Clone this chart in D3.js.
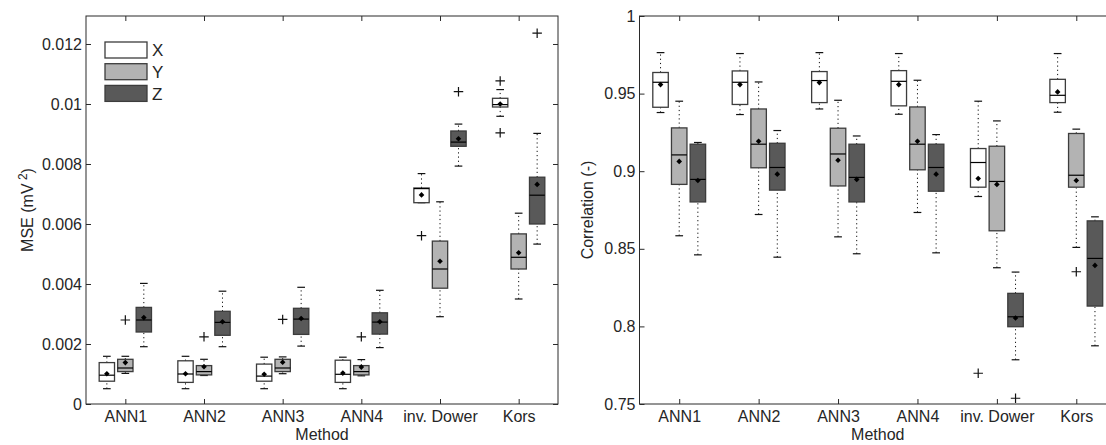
<!DOCTYPE html>
<html>
<head>
<meta charset="utf-8">
<script src="https://cdn.jsdelivr.net/npm/d3@7"></script>
<style>
  body { margin: 0; background: #fff; }
  svg text { font-family: Arial, "Liberation Sans", sans-serif; fill: #262626; }
</style>
</head>
<body>
<svg id="chart" width="1106" height="445"></svg>
<script>
const methods = ['ANN1', 'ANN2', 'ANN3', 'ANN4', 'inv. Dower', 'Kors'];
const seriesNames = ['X', 'Y', 'Z'];

// each row: [lower whisker, q1, median, q3, upper whisker, mean]
const mseX = [
  [0.00051, 0.00076, 0.00096, 0.00138, 0.00159, 0.00101],
  [0.00051, 0.00072, 0.00100, 0.00144, 0.00159, 0.00101],
  [0.00051, 0.00076, 0.00093, 0.00133, 0.00156, 0.00099],
  [0.00051, 0.00072, 0.00099, 0.00146, 0.00156, 0.00103],
  [0.00671, 0.00671, 0.00718, 0.00720, 0.00768, 0.00697],
  [0.00959, 0.00990, 0.00998, 0.01019, 0.01048, 0.01000]
];
const mseY = [
  [0.00102, 0.00108, 0.00120, 0.00149, 0.00159, 0.00138],
  [0.00095, 0.00097, 0.00108, 0.00128, 0.00149, 0.00124],
  [0.00101, 0.00108, 0.00120, 0.00149, 0.00157, 0.00139],
  [0.00094, 0.00097, 0.00108, 0.00128, 0.00148, 0.00123],
  [0.00291, 0.00386, 0.00450, 0.00543, 0.00674, 0.00476],
  [0.00350, 0.00450, 0.00489, 0.00567, 0.00636, 0.00504]
];
const mseZ = [
  [0.00191, 0.00240, 0.00280, 0.00322, 0.00402, 0.00288],
  [0.00191, 0.00229, 0.00272, 0.00309, 0.00376, 0.00274],
  [0.00193, 0.00232, 0.00283, 0.00319, 0.00389, 0.00285],
  [0.00188, 0.00233, 0.00273, 0.00304, 0.00379, 0.00274],
  [0.00793, 0.00859, 0.00873, 0.00910, 0.00933, 0.00884],
  [0.00533, 0.00600, 0.00696, 0.00756, 0.00902, 0.00732]
];
// [method index, series index, value]
const mseOutliers = [
  [0, 1, 0.00280], [1, 1, 0.00224], [2, 1, 0.00282], [3, 1, 0.00224],
  [4, 0, 0.00561], [4, 2, 0.01041],
  [5, 0, 0.01077], [5, 0, 0.00904], [5, 2, 0.01236]
];
const mseTicks = [0, 0.002, 0.004, 0.006, 0.008, 0.01, 0.012];

const corrX = [
  [0.9378, 0.9412, 0.9573, 0.9636, 0.9764, 0.9558],
  [0.9365, 0.9430, 0.9573, 0.9646, 0.9758, 0.9558],
  [0.9401, 0.9442, 0.9584, 0.9642, 0.9764, 0.9571],
  [0.9367, 0.9421, 0.9579, 0.9648, 0.9758, 0.9558],
  [0.8837, 0.8897, 0.9056, 0.9146, 0.9451, 0.8953],
  [0.9380, 0.9442, 0.9489, 0.9592, 0.9758, 0.9511]
];
const corrY = [
  [0.8584, 0.8915, 0.9105, 0.9279, 0.9451, 0.9063],
  [0.8721, 0.9022, 0.9174, 0.9401, 0.9575, 0.9193],
  [0.8577, 0.8905, 0.9111, 0.9277, 0.9457, 0.9071],
  [0.8734, 0.9009, 0.9174, 0.9414, 0.9586, 0.9193],
  [0.8378, 0.8616, 0.8934, 0.9161, 0.9324, 0.8915],
  [0.8509, 0.8897, 0.8974, 0.9243, 0.9271, 0.8940]
];
const corrZ = [
  [0.8461, 0.8802, 0.8947, 0.9174, 0.9185, 0.8940],
  [0.8446, 0.8878, 0.9024, 0.9180, 0.9262, 0.8981],
  [0.8468, 0.8802, 0.8960, 0.9174, 0.9227, 0.8947],
  [0.8474, 0.8871, 0.9024, 0.9174, 0.9236, 0.8981],
  [0.7785, 0.7998, 0.8062, 0.8213, 0.8350, 0.8054],
  [0.7875, 0.8131, 0.8438, 0.8680, 0.8706, 0.8393]
];
const corrOutliers = [[4, 0, 0.7698], [4, 2, 0.7537], [5, 1, 0.8352]];
const corrTicks = [0.75, 0.8, 0.85, 0.9, 0.95, 1];

const fills = ['#ffffff', '#b3b3b3', '#595959'];
const offsets = [-0.235, 0, 0.235];
const boxW = 0.195;
const ink = '#2a2a2a';
const fontSize = 16;

const svg = d3.select('#chart');

// MATLAB style "+" marker for outliers
const plusSymbol = {
  draw(ctx, size) {
    const r = Math.sqrt(size) / 2;
    ctx.moveTo(-r, 0); ctx.lineTo(r, 0);
    ctx.moveTo(0, -r); ctx.lineTo(0, r);
  }
};

function styleAxis(sel) {
  sel.attr('font-size', fontSize)
    .attr('font-family', 'Arial, "Liberation Sans", sans-serif')
    .attr('color', ink);
  sel.select('.domain').remove();
}

function drawPanel(opts) {
  const { left, right, top, bottom, domain, ticks, fmt, stats, outliers, yLabel, yLabelX } = opts;
  const x = d3.scaleLinear().domain([0.5, methods.length + 0.5]).range([left, right]);
  const y = d3.scaleLinear().domain(domain).range([bottom, top]);
  const g = svg.append('g');
  const xTicks = d3.range(1, methods.length + 1);
  const w = x(1 + boxW) - x(1);

  g.append('g').attr('transform', `translate(0,${bottom})`)
    .call(d3.axisBottom(x).tickValues(xTicks).tickFormat(i => methods[i - 1])
      .tickSizeInner(-5).tickSizeOuter(0).tickPadding(7))
    .call(styleAxis);
  g.append('g').attr('transform', `translate(0,${top})`)
    .call(d3.axisTop(x).tickValues(xTicks).tickFormat('')
      .tickSizeInner(-5).tickSizeOuter(0))
    .call(styleAxis);
  g.append('g').attr('transform', `translate(${left},0)`)
    .call(d3.axisLeft(y).tickValues(ticks).tickFormat(fmt)
      .tickSizeInner(-5).tickSizeOuter(0).tickPadding(4))
    .call(styleAxis);
  g.append('g').attr('transform', `translate(${right},0)`)
    .call(d3.axisRight(y).tickValues(ticks).tickFormat('')
      .tickSizeInner(-5).tickSizeOuter(0))
    .call(styleAxis);

  g.append('rect')
    .attr('x', left).attr('y', top)
    .attr('width', right - left).attr('height', bottom - top)
    .attr('fill', 'none').attr('stroke', ink).attr('stroke-width', 1);

  const boxes = [];
  stats.forEach((rows, s) => rows.forEach((r, i) => boxes.push({ s, i, r })));
  const cx = d => x(d.i + 1 + offsets[d.s]);

  const bg = g.selectAll('g.box').data(boxes).join('g').attr('class', 'box');
  // whiskers
  bg.append('line').attr('x1', cx).attr('x2', cx)
    .attr('y1', d => y(d.r[3])).attr('y2', d => y(d.r[4]))
    .attr('stroke', '#111').attr('stroke-dasharray', '1.2,3');
  bg.append('line').attr('x1', cx).attr('x2', cx)
    .attr('y1', d => y(d.r[0])).attr('y2', d => y(d.r[1]))
    .attr('stroke', '#111').attr('stroke-dasharray', '1.2,3');
  // caps
  [0, 4].forEach(k => {
    bg.append('line')
      .attr('x1', d => cx(d) - w / 4).attr('x2', d => cx(d) + w / 4)
      .attr('y1', d => y(d.r[k])).attr('y2', d => y(d.r[k]))
      .attr('stroke', '#111').attr('stroke-width', 1.2);
  });
  // box
  bg.append('rect')
    .attr('x', d => cx(d) - w / 2).attr('width', w)
    .attr('y', d => y(d.r[3])).attr('height', d => y(d.r[1]) - y(d.r[3]))
    .attr('fill', d => fills[d.s]).attr('stroke', '#3c3c3c').attr('stroke-width', 1.3);
  // median
  bg.append('line')
    .attr('x1', d => cx(d) - w / 2).attr('x2', d => cx(d) + w / 2)
    .attr('y1', d => y(d.r[2])).attr('y2', d => y(d.r[2]))
    .attr('stroke', '#000').attr('stroke-width', 1.2);
  // mean
  bg.append('path')
    .attr('d', d3.symbol().type(d3.symbolDiamond2).size(20))
    .attr('transform', d => `translate(${cx(d)},${y(d.r[5])})`)
    .attr('fill', '#000');

  g.selectAll('path.outlier').data(outliers).join('path')
    .attr('class', 'outlier')
    .attr('d', d3.symbol().type(plusSymbol).size(90))
    .attr('transform', d => `translate(${x(d[0] + 1 + offsets[d[1]])},${y(d[2])})`)
    .attr('fill', 'none').attr('stroke', '#111').attr('stroke-width', 1.2);

  g.append('text')
    .attr('x', (left + right) / 2).attr('y', 440)
    .attr('text-anchor', 'middle').attr('font-size', 16)
    .text('Method');

  const yl = g.append('text')
    .attr('transform', `translate(${yLabelX},${(top + bottom) / 2}) rotate(-90)`)
    .attr('text-anchor', 'middle').attr('font-size', 16);
  yLabel(yl);

  return { x, y };
}

drawPanel({
  left: 86, right: 558, top: 16, bottom: 404,
  domain: [0, 0.012933], ticks: mseTicks,
  fmt: d => String(+d.toFixed(3)),
  stats: [mseX, mseY, mseZ], outliers: mseOutliers,
  yLabelX: 33,
  yLabel: t => {
    t.append('tspan').text('MSE (mV');
    t.append('tspan').attr('dy', -6).attr('font-size', 12).text(' 2');
    t.append('tspan').attr('dy', 6).text(')');
  }
});

drawPanel({
  left: 639.5, right: 1116, top: 16, bottom: 404,
  domain: [0.75, 1], ticks: corrTicks,
  fmt: d => String(+d.toFixed(2)),
  stats: [corrX, corrY, corrZ], outliers: corrOutliers,
  yLabelX: 593,
  yLabel: t => t.text('Correlation (-)')
});

// legend
const legend = svg.append('g').selectAll('g').data(seriesNames).join('g')
  .attr('transform', (d, i) => `translate(105,${42 + i * 21.7})`);
legend.append('rect')
  .attr('width', 42).attr('height', 16)
  .attr('fill', (d, i) => fills[i]).attr('stroke', '#3c3c3c').attr('stroke-width', 1.3);
legend.append('text')
  .attr('x', 47).attr('y', 8).attr('dy', '0.36em')
  .attr('font-size', 17).text(d => d);
</script>
</body>
</html>
